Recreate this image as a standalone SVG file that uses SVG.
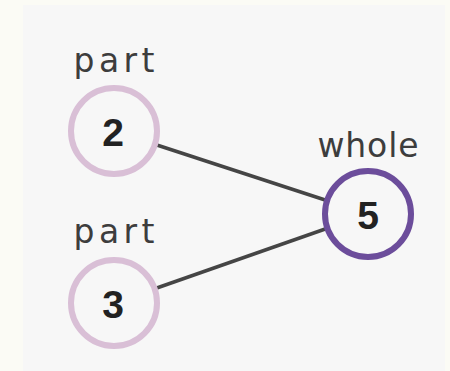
<svg xmlns="http://www.w3.org/2000/svg" width="450" height="371" viewBox="0 0 450 371">
<style>
.lbl{font-family:"DejaVu Sans","Noto Sans",sans-serif;font-size:33px;fill:#3d3d3d;text-anchor:middle}
.num{font-family:"Liberation Sans",Arial,sans-serif;font-weight:bold;font-size:39px;fill:#222;text-anchor:middle}
.part{fill:#f7f7f7;stroke:#d9bfd6;stroke-width:6}
.whole{fill:#f7f7f7;stroke:#6c4d9b;stroke-width:6}
.edge{stroke:#454545;stroke-width:3.5;fill:none}
</style>
<rect width="450" height="371" fill="#fbfbf5"/>
<rect x="23" y="5" width="422" height="366" fill="#f7f7f7"/>
<g id="connectors">
<line class="edge" x1="114" y1="131" x2="368" y2="214"/>
<line class="edge" x1="114" y1="303" x2="368" y2="214"/>
</g>
<g id="node-2">
<text class="lbl" x="114" y="72" textLength="81" lengthAdjust="spacing">part</text>
<circle class="part" cx="114" cy="131" r="43"/>
<text class="num" x="113" y="146">2</text>
</g>
<g id="node-3">
<text class="lbl" x="114" y="243" textLength="81" lengthAdjust="spacing">part</text>
<circle class="part" cx="114" cy="303" r="43"/>
<text class="num" x="113" y="318">3</text>
</g>
<g id="node-5">
<text class="lbl" x="368" y="157" textLength="101" lengthAdjust="spacing">whole</text>
<circle class="whole" cx="368" cy="214" r="43"/>
<text class="num" x="368" y="229">5</text>
</g>
</svg>
